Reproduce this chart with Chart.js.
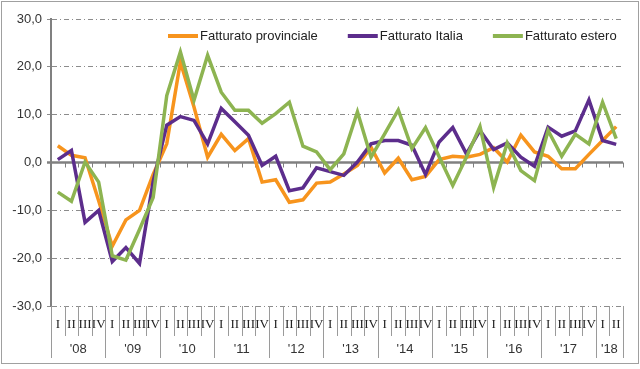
<!DOCTYPE html>
<html>
<head>
<meta charset="utf-8">
<script src="https://cdn.jsdelivr.net/npm/chart.js@4.4.1/dist/chart.umd.min.js"></script>
<style>
  body { margin: 0; background: #fff; }
  #wrap { width: 640px; height: 369px; position: relative; }
</style>
</head>
<body>
<div id="wrap"><canvas id="chart"></canvas></div>
<script>
// quarters 2008 Q1 - 2018 Q2
let quarterLabels = [
    "I", "II", "III", "IV", "I", "II", "III", "IV", "I", "II", "III", "IV",
    "I", "II", "III", "IV", "I", "II", "III", "IV", "I", "II", "III", "IV",
    "I", "II", "III", "IV", "I", "II", "III", "IV", "I", "II", "III", "IV",
    "I", "II", "III", "IV", "I", "II"
];
let years = ["'08", "'09", "'10", "'11", "'12", "'13", "'14", "'15", "'16", "'17", "'18"];
let yearQuarters = [4, 4, 4, 4, 4, 4, 4, 4, 4, 4, 2];

let provinciale = [3.5, 1.5, 1.0, -8.0, -17.5, -12.0, -10.0, -2.5, 3.9, 21.0, 11.6, 1.1,
    5.9, 2.5, 5.0, -4.1, -3.6, -8.3, -7.8, -4.3, -4.1, -2.4, -0.6, 3.2,
    -2.2, 0.9, -3.6, -2.9, 0.6, 1.3, 1.1, 1.7, 3.1, 0.1, 5.7, 2.2,
    1.3, -1.3, -1.3, 1.7, 4.6, 7.5];
let italia = [0.6, 2.5, -12.5, -10.0, -20.7, -17.8, -21.1, -4.0, 7.8, 9.6, 8.8, 3.9,
    11.3, 8.5, 5.7, -0.6, 1.3, -5.9, -5.3, -1.1, -1.9, -2.7, 0.1, 3.9,
    4.6, 4.6, 3.6, -2.5, 4.3, 7.3, 1.8, 6.7, 2.7, 4.1, 1.1, -0.8,
    7.4, 5.5, 6.6, 13.1, 4.6, 3.8];
let estero = [-6.2, -8.1, 0.1, -4.1, -19.5, -20.4, -14.0, -7.3, 14.0, 23.1, 13.0, 22.4,
    14.7, 10.9, 10.9, 8.2, 10.2, 12.6, 3.4, 2.2, -1.5, 1.8, 10.6, 1.1,
    6.0, 11.0, 2.9, 7.3, 1.2, -4.8, 1.1, 7.5, -5.2, 4.1, -1.7, -3.8,
    6.7, 1.3, 5.9, 3.9, 12.6, 5.0];

let textFont = "'Liberation Sans', Arial, sans-serif";
let gray = "#8c8c8c";

// zero line, separators, year labels, legend and frame
let decor = {
    id: "decor",
    beforeDatasetsDraw(chart) {
        let ctx = chart.ctx;
        let x = chart.scales.x;
        let y0 = chart.scales.y.getPixelForValue(0);
        let step = x.getPixelForValue(1) - x.getPixelForValue(0);
        let start = x.getPixelForValue(0) - step / 2;

        ctx.save();
        ctx.strokeStyle = "#808080";
        ctx.lineWidth = 2.5;
        ctx.beginPath();
        ctx.moveTo(chart.chartArea.left - 4, y0);
        ctx.lineTo(chart.chartArea.right, y0);
        ctx.stroke();

        ctx.lineWidth = 1;
        ctx.beginPath();
        for (let k = 1; k <= quarterLabels.length; k++) {
            let px = Math.round(start + k * step) + 0.5;
            ctx.moveTo(px, y0);
            ctx.lineTo(px, y0 + 5);
        }
        ctx.stroke();
        ctx.restore();
    },
    afterDraw(chart) {
        let ctx = chart.ctx;
        let area = chart.chartArea;
        let x = chart.scales.x;
        let step = x.getPixelForValue(1) - x.getPixelForValue(0);
        let start = x.getPixelForValue(0) - step / 2;

        ctx.save();
        // quarter and year separators
        let yearEnds = [0];
        yearQuarters.forEach((n, i) => yearEnds.push(yearEnds[i] + n));
        ctx.strokeStyle = "#9a9a9a";
        ctx.lineWidth = 1;
        ctx.beginPath();
        for (let k = 0; k <= quarterLabels.length; k++) {
            let px = Math.round(start + k * step) + 0.5;
            let long = yearEnds.includes(k);
            ctx.moveTo(px, area.bottom);
            ctx.lineTo(px, long ? area.bottom + 52 : area.bottom + 30);
        }
        ctx.stroke();

        // year labels
        ctx.fillStyle = "#333";
        ctx.font = "13px " + textFont;
        ctx.textAlign = "center";
        ctx.textBaseline = "middle";
        years.forEach((yr, i) => {
            let cx = start + (yearEnds[i] + yearEnds[i + 1]) / 2 * step;
            ctx.fillText(yr, cx, area.bottom + 43);
        });

        // legend inside plot
        let lx = 168;
        let ly = 36;
        ctx.textAlign = "left";
        chart.data.datasets.forEach((ds) => {
            ctx.strokeStyle = ds.borderColor;
            ctx.lineWidth = 4;
            ctx.beginPath();
            ctx.moveTo(lx, ly);
            ctx.lineTo(lx + 30, ly);
            ctx.stroke();
            ctx.fillStyle = "#222";
            ctx.fillText(ds.label, lx + 32, ly);
            lx += 32 + ctx.measureText(ds.label).width + 30;
        });

        // outer frame
        ctx.strokeStyle = "#a0a0a0";
        ctx.lineWidth = 1;
        ctx.strokeRect(1.5, 1.5, 637, 362);
        ctx.restore();
    }
};

new Chart(document.getElementById("chart"), {
    type: "line",
    data: {
        labels: quarterLabels,
        datasets: [{
            label: "Fatturato provinciale",
            data: provinciale,
            borderColor: "#f7941d",
            order: 3
        }, {
            label: "Fatturato Italia",
            data: italia,
            borderColor: "#5c2d8c",
            order: 2
        }, {
            label: "Fatturato estero",
            data: estero,
            borderColor: "#8db451",
            order: 1
        }]
    },
    options: {
        responsive: true,
        maintainAspectRatio: false,
        animation: false,
        layout: {
            padding: { top: 19, right: 17, left: 0, bottom: 0 }
        },
        elements: {
            line: { borderWidth: 3.5, tension: 0, borderJoinStyle: "miter" },
            point: { radius: 0 }
        },
        plugins: {
            legend: { display: false },
            tooltip: { enabled: false }
        },
        scales: {
            x: {
                offset: true,
                grid: { display: false, drawTicks: false },
                border: { display: false },
                ticks: {
                    autoSkip: false,
                    maxRotation: 0,
                    padding: 11,
                    color: "#222",
                    font: { family: "'Liberation Serif', serif", size: 13 }
                },
                afterFit(scale) { scale.height = 63; }
            },
            y: {
                min: -30,
                max: 30,
                grid: {
                    color: (c) => (c.tick && c.tick.value === 0) ? "rgba(0,0,0,0)" : gray,
                    lineWidth: 1,
                    tickLength: 4,
                    tickColor: gray
                },
                border: { display: true, color: "#808080", width: 2, dash: [5, 3, 1, 3] },
                ticks: {
                    stepSize: 10,
                    padding: 5,
                    color: "#333",
                    font: { family: textFont, size: 13 },
                    callback: (v) => v.toFixed(1).replace(".", ",")
                },
                afterFit(scale) { scale.width = 51; }
            }
        }
    },
    plugins: [decor]
});
</script>
</body>
</html>
